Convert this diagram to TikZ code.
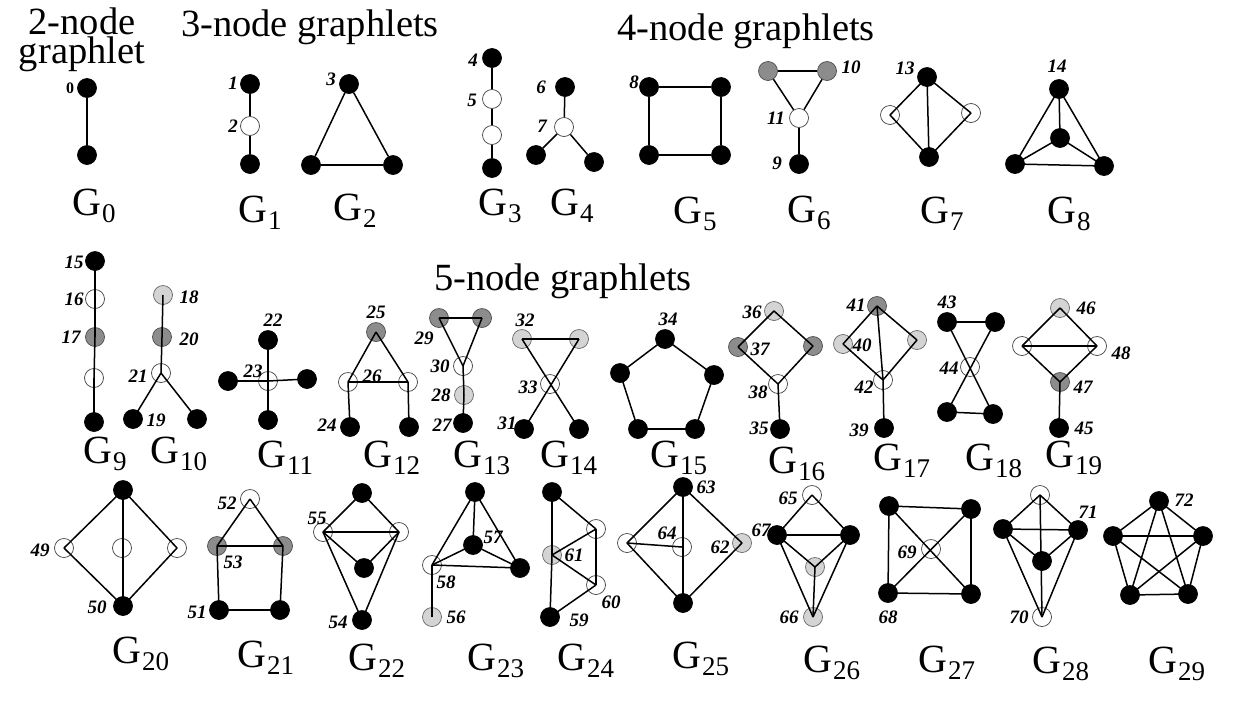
\documentclass[tikz,border=0pt]{standalone}
\usepackage{fontspec}
\setmainfont{Liberation Serif}
\newcommand\Gl[1]{G\kern1pt\raisebox{-7pt}{\fontsize{27}{27}\selectfont #1}}
\tikzset{
  vtx/.style={circle,minimum size=19pt,inner sep=0pt,line width=0.7pt},
  bn/.style={vtx,fill=black,draw=black},
  wn/.style={vtx,fill=white,draw=black!75},
  gn/.style={vtx,fill=black!45,draw=black!70},
  ln/.style={vtx,fill=black!17,draw=black!60},
  ed/.style={line width=1.5pt,black},
  lab/.style={font=\fontsize{19}{19}\selectfont\bfseries\itshape,inner sep=0pt},
  glab/.style={font=\fontsize{40}{40}\selectfont,inner sep=0pt,anchor=base west},
  title/.style={font=\fontsize{38.5}{38.5}\selectfont,inner sep=0pt,anchor=base}
}
\newcommand\E[2]{\draw[ed] (#1.center) -- (#2.center);}
\newcommand\B[2]{\draw[ed] (#1) -- (#2);}
\begin{document}
\begin{tikzpicture}[x=1pt,y=-1pt]
\useasboundingbox (0,0) rectangle (1236,702);
% titles
\node[title] (t2a) at (82,34) {2-node};
\node[title] (t2b) at (82,63) {graphlet};
\node[title] (t3) at (310,36) {3-node graphlets};
\node[title] (t4) at (746,40) {4-node graphlets};
\node[title] (t5) at (563,290) {5-node graphlets};

% G0
\node[bn] (g0a) at (87,88) {};
\node[bn] (g0b) at (87,155) {};
\B{g0a}{g0b}
\node[font=\fontsize{16}{16}\selectfont\bfseries,inner sep=0pt] (l0) at (70,88) {0};
\node[glab] (G0) at (72,215) {\Gl{0}};
% G1
\node[bn] (g1a) at (250,84) {};
\node[wn] (g1b) at (250,126) {};
\node[bn] (g1c) at (250,164) {};
\B{g1a}{g1b}\B{g1b}{g1c}
\node[lab] (l1) at (233,83) {1};
\node[lab] (l2) at (233,126) {2};
\node[glab] (G1) at (238,222) {\Gl{1}};
% G2
\node[bn] (g2a) at (349,84) {};
\node[bn] (g2b) at (311,165) {};
\node[bn] (g2c) at (393,165) {};
\B{g2a}{g2b}\B{g2a}{g2c}\B{g2b}{g2c}
\node[lab] (l3) at (331,79) {3};
\node[glab] (G2) at (333,220) {\Gl{2}};
% G3
\node[bn] (g3a) at (492,58) {};
\node[wn] (g3b) at (492,99) {};
\node[wn] (g3c) at (492,135) {};
\node[bn] (g3d) at (492,168) {};
\B{g3a}{g3b}\B{g3b}{g3c}\B{g3c}{g3d}
\node[lab] (l4) at (473,60) {4};
\node[lab] (l5) at (472,100) {5};
\node[glab] (G3) at (478,215) {\Gl{3}};
% G4
\node[bn] (g4a) at (565,87) {};
\node[wn] (g4b) at (564,127) {};
\node[bn] (g4c) at (536,155) {};
\node[bn] (g4d) at (594,162) {};
\B{g4a}{g4b}\B{g4b}{g4c}\B{g4b}{g4d}
\node[lab] (l6) at (541,87) {6};
\node[lab] (l7) at (542,126) {7};
\node[glab] (G4) at (550,215) {\Gl{4}};
% G5
\node[bn] (g5a) at (649,87) {};
\node[bn] (g5b) at (721,87) {};
\node[bn] (g5c) at (721,155) {};
\node[bn] (g5d) at (649,155) {};
\B{g5a}{g5b}\B{g5b}{g5c}\B{g5c}{g5d}\B{g5d}{g5a}
\node[lab] (l8) at (634,82) {8};
\node[glab] (G5) at (673,223) {\Gl{5}};
% G6
\node[gn] (g6a) at (768,71) {};
\node[gn] (g6b) at (827,71) {};
\node[wn] (g6c) at (799,118) {};
\node[bn] (g6d) at (799,164) {};
\B{g6a}{g6b}\B{g6a}{g6c}\B{g6b}{g6c}\B{g6c}{g6d}
\node[lab] (l10) at (851,67) {10};
\node[lab] (l11) at (776,118) {11};
\node[lab] (l9) at (777,163) {9};
\node[glab] (G6) at (787,222) {\Gl{6}};
% G7
\node[bn] (g7a) at (927,77) {};
\node[wn] (g7b) at (890,115) {};
\node[wn] (g7c) at (971,113) {};
\node[bn] (g7d) at (929,157) {};
\E{g7a}{g7b}\E{g7a}{g7c}\E{g7a}{g7d}\E{g7b}{g7d}\E{g7c}{g7d}
\node[lab] (l13) at (905,68) {13};
\node[glab] (G7) at (920,223) {\Gl{7}};
% G8
\node[bn] (g8a) at (1059,89) {};
\node[bn] (g8b) at (1060,138) {};
\node[bn] (g8c) at (1015,164) {};
\node[bn] (g8d) at (1104,166) {};
\E{g8a}{g8b}\E{g8a}{g8c}\E{g8a}{g8d}\E{g8b}{g8c}\E{g8b}{g8d}\E{g8c}{g8d}
\node[lab] (l14) at (1057,66) {14};
\node[glab] (G8) at (1047,223) {\Gl{8}};

% G9
\node[bn] (g9a) at (95,261) {};
\node[wn] (g9b) at (95,299) {};
\node[gn] (g9c) at (95,337) {};
\node[wn] (g9d) at (94,378) {};
\node[bn] (g9e) at (94,422) {};
\E{g9a}{g9b}\E{g9b}{g9c}\E{g9c}{g9d}\E{g9d}{g9e}
\node[lab] (l15) at (74,262) {15};
\node[lab] (l16) at (74,299) {16};
\node[lab] (l17) at (71,337) {17};
\node[glab] (G9) at (83,463) {\Gl{9}};
% G10
\node[ln] (g10a) at (163,295) {};
\node[gn] (g10b) at (162,337) {};
\node[wn] (g10c) at (161,373) {};
\node[bn] (g10d) at (133,419) {};
\node[bn] (g10e) at (197,419) {};
\E{g10a}{g10b}\E{g10b}{g10c}\E{g10c}{g10d}\E{g10c}{g10e}
\node[lab] (l18) at (189,297) {18};
\node[lab] (l20) at (189,339) {20};
\node[lab] (l21) at (138,376) {21};
\node[lab] (l19) at (156,420) {19};
\node[glab] (G10) at (150,463) {\Gl{10}};
% G11
\node[bn] (g11a) at (268,340) {};
\node[wn] (g11b) at (268,381) {};
\node[bn] (g11c) at (228,381) {};
\node[bn] (g11d) at (307,379) {};
\node[bn] (g11e) at (268,420) {};
\E{g11b}{g11a}\E{g11b}{g11c}\E{g11b}{g11d}\E{g11b}{g11e}
\node[lab] (l22) at (273,320) {22};
\node[lab] (l23) at (253,371) {23};
\node[glab] (G11) at (257,467) {\Gl{11}};
% G12
\node[gn] (g12a) at (376,332) {};
\node[wn] (g12b) at (348,382) {};
\node[wn] (g12c) at (408,382) {};
\node[bn] (g12d) at (350,427) {};
\node[bn] (g12e) at (409,427) {};
\E{g12a}{g12b}\E{g12a}{g12c}\E{g12b}{g12c}\E{g12b}{g12d}\E{g12c}{g12e}
\node[lab] (l25) at (376,312) {25};
\node[lab] (l26) at (372,376) {26};
\node[lab] (l24) at (327,425) {24};
\node[glab] (G12) at (363,467) {\Gl{12}};
% G13
\node[gn] (g13a) at (439,318) {};
\node[gn] (g13b) at (482,318) {};
\node[wn] (g13c) at (463,366) {};
\node[ln] (g13d) at (464,395) {};
\node[bn] (g13e) at (463,423) {};
\E{g13a}{g13b}\E{g13a}{g13c}\E{g13b}{g13c}\E{g13c}{g13d}\E{g13d}{g13e}
\node[lab] (l29) at (424,338) {29};
\node[lab] (l30) at (440,366) {30};
\node[lab] (l28) at (441,395) {28};
\node[lab] (l27) at (442,425) {27};
\node[glab] (G13) at (453,467) {\Gl{13}};
% G14
\node[ln] (g14a) at (522,339) {};
\node[ln] (g14b) at (579,339) {};
\node[wn] (g14c) at (550,384) {};
\node[bn] (g14d) at (524,429) {};
\node[bn] (g14e) at (579,429) {};
\E{g14a}{g14b}\E{g14a}{g14e}\E{g14b}{g14d}
\node[lab] (l32) at (525,320) {32};
\node[lab] (l33) at (528,387) {33};
\node[lab] (l31) at (507,423) {31};
\node[glab] (G14) at (540,467) {\Gl{14}};
% G15
\node[bn] (g15a) at (665,339) {};
\node[bn] (g15b) at (714,375) {};
\node[bn] (g15c) at (695,429) {};
\node[bn] (g15d) at (638,429) {};
\node[bn] (g15e) at (620,373) {};
\E{g15a}{g15b}\E{g15b}{g15c}\E{g15c}{g15d}\E{g15d}{g15e}\E{g15e}{g15a}
\node[lab] (l34) at (668,319) {34};
\node[glab] (G15) at (650,467) {\Gl{15}};
% G16
\node[ln] (g16a) at (774,311) {};
\node[gn] (g16b) at (738,347) {};
\node[gn] (g16c) at (813,346) {};
\node[wn] (g16d) at (778,384) {};
\node[bn] (g16e) at (780,429) {};
\E{g16a}{g16b}\E{g16a}{g16c}\E{g16b}{g16d}\E{g16c}{g16d}\E{g16d}{g16e}
\node[lab] (l36) at (752,312) {36};
\node[lab] (l37) at (760,349) {37};
\node[lab] (l38) at (758,392) {38};
\node[lab] (l35) at (759,428) {35};
\node[glab] (G16) at (768,473) {\Gl{16}};
% G17
\node[gn] (g17a) at (877,306) {};
\node[ln] (g17b) at (843,344) {};
\node[ln] (g17c) at (917,340) {};
\node[wn] (g17d) at (883,380) {};
\node[bn] (g17e) at (884,428) {};
\E{g17a}{g17b}\E{g17a}{g17c}\E{g17a}{g17d}\E{g17b}{g17d}\E{g17c}{g17d}\E{g17d}{g17e}
\node[lab] (l41) at (856,305) {41};
\node[lab] (l40) at (862,345) {40};
\node[lab] (l42) at (864,387) {42};
\node[lab] (l39) at (859,430) {39};
\node[glab] (G17) at (873,470) {\Gl{17}};
% G18
\node[bn] (g18a) at (947,322) {};
\node[bn] (g18b) at (995,322) {};
\node[wn] (g18c) at (970,367) {};
\node[bn] (g18d) at (947,412) {};
\node[bn] (g18e) at (993,414) {};
\E{g18a}{g18b}\E{g18d}{g18e}\E{g18a}{g18e}\E{g18b}{g18d}
\node[lab] (l43) at (947,302) {43};
\node[lab] (l44) at (949,368) {44};
\node[glab] (G18) at (965,470) {\Gl{18}};
% G19
\node[ln] (g19a) at (1060,308) {};
\node[wn] (g19b) at (1022,346) {};
\node[wn] (g19c) at (1097,346) {};
\node[gn] (g19d) at (1060,382) {};
\node[bn] (g19e) at (1059,428) {};
\E{g19a}{g19b}\E{g19a}{g19c}\E{g19b}{g19c}\E{g19b}{g19d}\E{g19c}{g19d}\E{g19d}{g19e}
\node[lab] (l46) at (1086,308) {46};
\node[lab] (l48) at (1121,353) {48};
\node[lab] (l47) at (1083,387) {47};
\node[lab] (l45) at (1084,428) {45};
\node[glab] (G19) at (1045,467) {\Gl{19}};

% G20
\node[bn] (g20a) at (123,490) {};
\node[wn] (g20b) at (64,548) {};
\node[wn] (g20c) at (122,548) {};
\node[wn] (g20d) at (177,548) {};
\node[bn] (g20e) at (123,606) {};
\E{g20a}{g20b}\E{g20a}{g20d}\E{g20a}{g20e}\E{g20b}{g20e}\E{g20d}{g20e}
\node[lab] (l49) at (40,550) {49};
\node[lab] (l50) at (97,607) {50};
\node[glab] (G20) at (112,663) {\Gl{20}};
% G21
\node[wn] (g21a) at (250,499) {};
\node[gn] (g21b) at (217,546) {};
\node[gn] (g21c) at (283,546) {};
\node[bn] (g21d) at (219,610) {};
\node[bn] (g21e) at (280,610) {};
\E{g21a}{g21b}\E{g21a}{g21c}\E{g21b}{g21c}\E{g21b}{g21d}\E{g21c}{g21e}\E{g21d}{g21e}
\node[lab] (l52) at (227,503) {52};
\node[lab] (l53) at (233,562) {53};
\node[lab] (l51) at (197,612) {51};
\node[glab] (G21) at (237,667) {\Gl{21}};
% G22
\node[bn] (g22a) at (362,493) {};
\node[wn] (g22b) at (323,532) {};
\node[wn] (g22c) at (399,532) {};
\node[bn] (g22d) at (364,568) {};
\node[bn] (g22e) at (362,620) {};
\E{g22a}{g22b}\E{g22a}{g22c}\E{g22b}{g22c}\E{g22b}{g22d}\E{g22c}{g22d}\E{g22b}{g22e}\E{g22c}{g22e}
\node[lab] (l55) at (317,518) {55};
\node[lab] (l54) at (338,622) {54};
\node[glab] (G22) at (348,670) {\Gl{22}};
% G23
\node[bn] (g23a) at (475,492) {};
\node[bn] (g23b) at (473,545) {};
\node[wn] (g23c) at (432,565) {};
\node[bn] (g23d) at (520,568) {};
\node[ln] (g23e) at (432,617) {};
\E{g23a}{g23b}\E{g23a}{g23c}\E{g23a}{g23d}\E{g23b}{g23c}\E{g23b}{g23d}\E{g23c}{g23d}\E{g23c}{g23e}
\node[lab] (l57) at (493,537) {57};
\node[lab] (l58) at (446,582) {58};
\node[lab] (l56) at (456,617) {56};
\node[glab] (G23) at (467,670) {\Gl{23}};
% G24
\node[bn] (g24a) at (552,492) {};
\node[ln] (g24b) at (552,555) {};
\node[bn] (g24c) at (550,617) {};
\node[wn] (g24d) at (596,529) {};
\node[wn] (g24e) at (596,585) {};
\E{g24a}{g24b}\E{g24b}{g24c}\E{g24a}{g24d}\E{g24d}{g24b}\E{g24d}{g24e}\E{g24b}{g24e}\E{g24e}{g24c}
\node[lab] (l61) at (574,555) {61};
\node[lab] (l60) at (611,602) {60};
\node[lab] (l59) at (579,620) {59};
\node[glab] (G24) at (557,670) {\Gl{24}};
% G25
\node[bn] (g25a) at (683,487) {};
\node[wn] (g25b) at (627,543) {};
\node[wn] (g25c) at (682,547) {};
\node[ln] (g25d) at (742,543) {};
\node[bn] (g25e) at (683,603) {};
\E{g25a}{g25b}\E{g25a}{g25d}\E{g25a}{g25e}\E{g25b}{g25c}\E{g25b}{g25e}\E{g25d}{g25e}
\node[lab] (l63) at (706,487) {63};
\node[lab] (l64) at (667,533) {64};
\node[lab] (l62) at (720,547) {62};
\node[glab] (G25) at (672,668) {\Gl{25}};
% G26
\node[wn] (g26a) at (812,495) {};
\node[bn] (g26b) at (777,535) {};
\node[bn] (g26c) at (850,535) {};
\node[ln] (g26d) at (815,567) {};
\node[ln] (g26e) at (813,617) {};
\E{g26a}{g26b}\E{g26a}{g26c}\E{g26b}{g26c}\E{g26b}{g26d}\E{g26c}{g26d}\E{g26d}{g26e}\E{g26b}{g26e}\E{g26c}{g26e}
\node[lab] (l65) at (788,498) {65};
\node[lab] (l67) at (761,530) {67};
\node[lab] (l66) at (789,617) {66};
\node[glab] (G26) at (803,672) {\Gl{26}};
% G27
\node[bn] (g27a) at (889,506) {};
\node[bn] (g27b) at (971,509) {};
\node[bn] (g27c) at (971,594) {};
\node[bn] (g27d) at (888,593) {};
\node[wn] (g27e) at (931,549) {};
\E{g27a}{g27b}\E{g27b}{g27c}\E{g27c}{g27d}\E{g27d}{g27a}\E{g27a}{g27c}\E{g27b}{g27d}
\node[lab] (l69) at (907,552) {69};
\node[lab] (l68) at (888,617) {68};
\node[glab] (G27) at (918,672) {\Gl{27}};
% G28
\node[wn] (g28a) at (1040,495) {};
\node[bn] (g28b) at (1003,529) {};
\node[bn] (g28c) at (1078,530) {};
\node[bn] (g28d) at (1042,561) {};
\node[wn] (g28e) at (1042,617) {};
\E{g28a}{g28b}\E{g28a}{g28c}\E{g28a}{g28e}\E{g28b}{g28c}\E{g28b}{g28d}\E{g28c}{g28d}\E{g28b}{g28e}\E{g28c}{g28e}
\node[lab] (l71) at (1088,512) {71};
\node[lab] (l70) at (1019,617) {70};
\node[glab] (G28) at (1032,673) {\Gl{28}};
% G29
\node[bn] (g29a) at (1159,501) {};
\node[bn] (g29b) at (1203,536) {};
\node[bn] (g29c) at (1188,594) {};
\node[bn] (g29d) at (1130,595) {};
\node[bn] (g29e) at (1113,536) {};
\E{g29a}{g29b}\E{g29a}{g29c}\E{g29a}{g29d}\E{g29a}{g29e}\E{g29b}{g29c}\E{g29b}{g29d}\E{g29b}{g29e}\E{g29c}{g29d}\E{g29c}{g29e}\E{g29d}{g29e}
\node[lab] (l72) at (1184,500) {72};
\node[glab] (G29) at (1148,673) {\Gl{29}};
\end{tikzpicture}
\end{document}
